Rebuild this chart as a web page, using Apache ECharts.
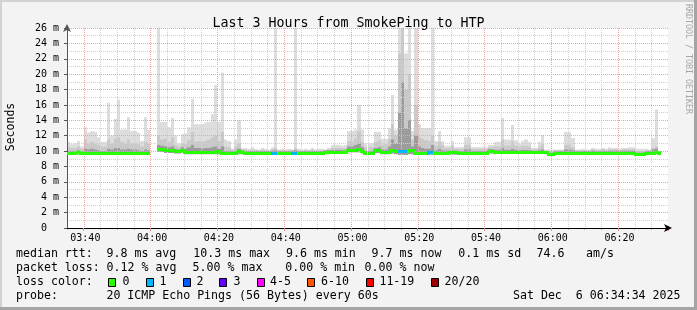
<!DOCTYPE html>
<html><head><meta charset="utf-8">
<script src="https://cdn.jsdelivr.net/npm/echarts@6/dist/echarts.min.js"></script>
<style>
html,body{margin:0;padding:0;background:#f3f3f3;}
#wrap{position:relative;width:697px;height:310px;overflow:hidden;}
#chart{position:absolute;left:0;top:0;width:697px;height:310px;}
.edge{position:absolute;}
</style></head><body>
<div id="wrap"><div id="chart"></div>
<div class="edge" style="left:0;top:0;width:697px;height:2px;background:#d2d2d2"></div>
<div class="edge" style="left:0;top:0;width:2px;height:310px;background:#d2d2d2"></div>
<div class="edge" style="left:0;top:307px;width:697px;height:3px;background:#a4a4a4"></div>
<div class="edge" style="left:694px;top:0;width:3px;height:310px;background:#a4a4a4"></div>
</div>
<script>
// ---- data (milliseconds, one value per minute starting 03:35) ----
const startMinute = 3 * 60 + 35;
const minuteCount = 180;
const tickLabels = ['03:40','04:00','04:20','04:40','05:00','05:20','05:40','06:00','06:20'];
const yTicksMs = [0,2,4,6,8,10,12,14,16,18,20,22,24,26];

const median = [
9.8,9.8,9.8,9.9,9.75,9.75,9.75,9.75,9.75,9.75,
9.75,9.75,9.75,9.75,9.75,9.75,9.75,9.75,9.75,9.75,
9.75,9.75,9.75,9.75,9.75,null,null,10.3,10.3,10.1,
10.1,10.1,10.0,10.0,10.2,9.9,9.9,9.9,9.9,9.9,
9.9,9.9,9.9,9.9,9.9,9.95,9.75,9.75,9.75,9.75,
9.8,9.95,9.9,9.8,9.8,9.8,9.8,9.8,9.8,9.8,
9.8,9.8,9.8,9.8,9.8,9.8,9.8,9.8,9.8,9.8,
9.8,9.8,9.8,9.8,9.8,9.8,9.8,9.9,9.9,9.9,
9.9,9.9,9.9,9.9,10.2,10.2,10.2,10.25,10.0,9.8,
9.8,9.8,10.1,10.1,9.9,9.9,9.9,10.1,10.0,10.0,
10.0,10.0,10.1,10.1,9.8,9.8,9.8,9.8,9.85,9.85,
9.8,9.8,9.8,9.8,9.85,9.85,9.85,9.8,9.8,9.8,
9.8,9.8,9.8,9.8,9.8,9.8,10.0,10.0,9.9,9.9,
9.9,9.9,9.9,9.9,9.9,9.9,9.9,9.9,9.9,9.9,
9.9,9.9,9.9,9.85,9.6,9.6,9.8,9.8,9.8,9.8,
9.8,9.8,9.8,9.8,9.8,9.8,9.8,9.8,9.8,9.8,
9.8,9.8,9.8,9.8,9.8,9.8,9.8,9.8,9.8,9.8,
9.6,9.6,9.6,9.8,9.8,9.8,9.9,9.8,null,null];

const lossCount = [
0,0,0,0,0,0,0,0,0,0, 0,0,0,0,0,0,0,0,0,0,
0,0,0,0,0,0,0,0,0,0, 0,0,0,0,0,0,0,0,0,0,
0,0,0,0,0,0,0,0,0,0, 0,0,0,0,0,0,0,0,0,0,
0,1,1,0,0,0,0,1,1,0, 0,0,0,0,0,0,0,0,0,0,
0,0,0,0,0,0,0,0,0,0, 0,0,0,0,0,0,0,0,0,1,
1,1,0,0,0,0,0,0,1,1, 0,0,0,0,0,0,0,0,0,0,
0,0,0,0,0,0,0,0,0,0, 0,0,0,0,0,0,0,0,0,0,
0,0,0,0,0,0,0,0,0,0, 0,0,0,0,0,0,0,0,0,0,
0,0,0,0,0,0,0,0,0,0, 0,0,0,0,0,0,0,0,0,0];

const pingMin = [
9.55,9.55,9.55,9.6,9.5,9.5,9.5,9.5,9.5,9.5,
9.5,9.5,9.5,9.5,9.5,9.5,9.5,9.5,9.5,9.5,
9.5,9.5,9.5,9.5,9.5,null,null,9.9,9.9,9.75,
9.75,9.75,9.7,9.7,9.8,9.6,9.6,9.6,9.6,9.6,
9.6,9.6,9.6,9.6,9.6,9.6,9.5,9.5,9.5,9.5,
9.55,9.6,9.6,9.55,9.55,9.55,9.55,9.55,9.55,9.55,
9.55,9.55,9.55,9.55,9.55,9.55,9.55,9.55,9.55,9.55,
9.55,9.55,9.55,9.55,9.55,9.55,9.55,9.65,9.65,9.65,
9.65,9.65,9.65,9.65,9.85,9.85,9.85,9.85,9.7,9.5,
9.5,9.5,9.75,9.75,9.6,9.6,9.6,9.7,9.6,9.5,
9.5,9.5,9.6,9.6,9.5,9.5,9.5,9.5,9.55,9.55,
9.55,9.55,9.55,9.55,9.55,9.55,9.55,9.55,9.55,9.55,
9.55,9.55,9.55,9.55,9.55,9.55,9.7,9.7,9.65,9.65,
9.65,9.65,9.65,9.65,9.65,9.65,9.65,9.65,9.65,9.65,
9.65,9.65,9.65,9.6,9.4,9.4,9.55,9.55,9.55,9.55,
9.55,9.55,9.55,9.55,9.55,9.55,9.55,9.55,9.55,9.55,
9.55,9.55,9.55,9.55,9.55,9.55,9.55,9.55,9.55,9.55,
9.4,9.4,9.4,9.55,9.55,9.55,9.65,9.55,null,null];

const pingP75 = [
10.0,10.0,10.0,10.1,9.95,10.3,10.2,10.3,10.2,10.1,
10.0,10.0,10.3,10.2,10.4,10.4,10.2,10.2,10.3,10.2,
10.2,10.1,10.0,10.2,10.1,null,null,10.8,10.7,10.6,
10.5,10.6,10.3,10.2,10.5,10.3,10.5,10.8,10.4,10.4,
10.3,10.4,10.4,10.5,10.6,10.3,10.6,10.0,10.0,9.95,
10.0,10.3,10.1,10.0,10.0,10.0,10.0,10.0,10.0,10.0,
10.0,10.05,10.1,10.0,10.0,10.0,10.0,10.05,10.1,10.0,
10.0,10.0,10.0,10.0,10.0,10.0,10.0,10.1,10.1,10.15,
10.15,10.15,10.1,10.1,10.6,10.6,10.8,11.0,10.5,10.0,
10.0,10.0,10.4,10.5,10.2,10.2,10.6,11.5,11.0,15.0,
19.0,13.0,14.0,10.6,12.0,10.6,10.4,10.3,10.3,10.8,
10.1,10.3,10.1,10.05,10.05,10.1,10.05,10.0,10.0,10.2,
10.2,10.0,10.0,10.0,10.0,10.0,10.25,10.25,10.15,10.15,
10.4,10.15,10.15,10.3,10.15,10.1,10.15,10.15,10.1,10.05,
10.05,10.1,10.2,10.0,9.8,9.8,10.0,10.0,10.0,10.2,
10.2,10.1,10.0,10.0,10.0,10.0,10.0,10.05,10.0,10.0,
10.05,10.0,10.05,10.05,10.05,10.0,10.05,10.05,10.05,10.05,
9.8,9.8,9.8,10.0,10.0,10.2,10.3,10.0,null,null];

const pingP90 = [
10.5,10.4,10.4,10.6,10.3,11.5,11.0,11.2,11.0,10.8,
10.6,10.6,11.5,11.0,11.6,11.8,11.2,11.0,11.5,11.0,
11.0,10.9,10.6,11.2,11.0,null,null,12.0,11.5,11.6,
11.2,11.8,10.8,10.6,11.0,10.9,11.4,12.5,11.2,11.3,
11.2,11.3,11.5,11.8,12.0,11.3,12.5,10.6,10.5,10.2,
10.6,11.0,10.2,10.2,10.1,10.2,10.1,10.1,10.2,10.1,
10.1,10.2,10.4,10.1,10.1,10.1,10.1,10.1,10.4,10.1,
10.1,10.1,10.1,10.2,10.1,10.1,10.1,10.1,10.2,10.4,
10.4,10.4,10.4,10.4,11.3,11.2,11.6,12.6,11.2,10.5,
10.5,10.5,11.2,11.4,10.8,10.9,11.6,13.5,12.0,22.7,
26.0,18.0,20.0,11.5,16.0,11.8,11.6,11.4,11.3,12.0,
10.7,11.2,10.8,10.4,10.4,10.7,10.3,10.3,10.3,10.8,
10.8,10.3,10.3,10.3,10.3,10.3,10.5,10.5,10.6,10.6,
11.5,10.7,10.7,11.3,10.7,10.5,10.7,10.7,10.6,10.2,
10.2,10.5,10.9,10.1,9.9,9.9,10.1,10.1,10.1,10.8,
10.8,10.5,10.1,10.1,10.1,10.1,10.1,10.2,10.1,10.1,
10.2,10.1,10.2,10.2,10.2,10.1,10.2,10.2,10.2,10.2,
10.0,10.0,10.0,10.1,10.1,10.4,10.6,10.0,null,null];

const pingMax = [
11.2,10.9,11.0,11.3,10.6,13.1,12.4,12.6,12.5,11.8,
11.2,11.2,16.3,12.0,14.2,16.7,12.8,12.8,14.4,12.6,
12.6,12.4,11.3,14.4,12.8,null,null,30,13.8,13.8,
13.1,14.3,12.0,11.0,12.2,12.3,13.1,16.8,13.5,13.5,
13.5,13.7,13.8,14.8,18.6,13.8,20.2,11.5,11.3,10.3,
11.5,14.0,10.4,10.4,10.3,10.5,10.3,10.2,10.4,10.3,
10.2,10.5,30,10.2,10.3,10.2,10.3,10.2,30,10.3,
10.2,10.3,10.2,10.4,10.2,10.3,10.3,10.2,10.4,10.8,
10.8,10.8,10.7,10.8,12.6,12.6,12.8,16.0,12.8,11.0,
11.0,11.0,12.5,12.5,11.6,11.6,13.0,17.3,12.8,26.5,
30,22.7,30,12.6,30,13.5,13.0,13.0,13.0,30,
11.3,12.6,11.3,10.7,10.7,11.3,10.5,10.5,10.5,11.8,
11.8,10.5,10.5,10.5,10.5,10.5,10.8,10.8,11.2,11.2,
14.3,11.5,11.5,13.4,11.4,11.0,11.3,11.5,11.2,10.4,
10.4,11.2,12.1,10.2,10.2,10.2,10.2,10.2,10.2,12.5,
12.5,11.7,10.2,10.2,10.3,10.2,10.2,10.4,10.3,10.3,
10.4,10.3,10.5,10.4,10.4,10.3,10.4,10.4,10.5,10.5,
10.3,10.3,10.3,10.3,10.2,11.7,15.4,10.0,null,null];

const lossLabels = ['0','1','2','3','4-5','6-10','11-19','20/20'];
const lossUpper  = [0,1,2,3,5,10,19,20];
const lossColors = ['#26ff00','#00b8ff','#0059ff','#6200ff','#ff00ff','#ff5500','#ff0000','#a10000'];

// legend text pieces per row
const legendRows = [
  ['median rtt:', '9.8 ms avg', '10.3 ms max', '9.6 ms min', '9.7 ms now', '0.1 ms sd', '74.6', 'am/s'],
  ['packet loss:', '0.12 % avg', '5.00 % max', '0.00 % min', '0.00 % now'],
  ['loss color:'],
  ['probe:', '20 ICMP Echo Pings (56 Bytes) every 60s']
];
const stampText = 'Sat Dec  6 06:34:34 2025';
const chartTitle = 'Last 3 Hours from SmokePing to HTP';

// ---- layout / style ----
const MONO = '"DejaVu Sans Mono", monospace';
const legendRowX = [
  [16, 106.5, 193.3, 286, 371.6, 458.3, 536.6, 586],
  [16, 106.6, 192.6, 285.3, 364.6],
  [16],
  [16, 106.4]
];
const legendRowY = [254, 268, 282, 296];
const lossBoxX = [108, 146, 183, 219, 257, 307, 366, 431];
const lossTextX = [122.4, 159.6, 196.6, 233.6, 270, 321, 379.4, 444.6];
const smokeColors = ['#dddddd', '#c9c9c9', '#9c9c9c'];
const majorGrid = '#f2a0a0';
const minorGrid = '#cfcfcf';
const LEG_FONT = '11.6px ' + MONO;

const pad = n => (n < 10 ? '0' : '') + n;
const times = [];
for (let k = 0; k < minuteCount; k++) {
  const t = startMinute + k;
  times.push(pad(Math.floor(t / 60)) + ':' + pad(t % 60));
}
const isMajor = v => tickLabels.indexOf(v) >= 0;
const isMinor = v => (parseInt(v.slice(3), 10) % 5 === 0) && !isMajor(v);
const lossBucket = n => { for (let b = 0; b < lossUpper.length; b++) if (n <= lossUpper[b]) return b; return lossUpper.length - 1; };

const smokeData = times.map((t, i) => [i, pingMin[i], pingP75[i], pingP90[i], pingMax[i]]);
const medianData = times.map((t, i) => [i, median[i], lossCount[i]]);
const vGridData = [];
times.forEach((t, i) => { if (i > 0 && (isMajor(t) || isMinor(t))) vGridData.push([i, isMajor(t) ? 1 : 0]); });

const chart = echarts.init(document.getElementById('chart'), null, {renderer: 'canvas'});

const graphics = [];
legendRows.forEach((row, r) => {
  row.forEach((s, k) => {
    graphics.push({type: 'text', x: legendRowX[r][k], y: legendRowY[r], z: 100,
      style: {text: s, font: LEG_FONT, fill: '#000', textVerticalAlign: 'middle'}});
  });
});
graphics.push({type: 'text', x: 680.5, y: legendRowY[3], z: 100,
  style: {text: stampText, font: LEG_FONT, fill: '#000', textAlign: 'right', textVerticalAlign: 'middle'}});
lossLabels.forEach((lab, k) => {
  graphics.push({type: 'rect', z: 100, shape: {x: lossBoxX[k] + 0.5, y: 278.5, width: 7, height: 8},
    style: {fill: lossColors[k], stroke: '#000', lineWidth: 1}});
  graphics.push({type: 'text', x: lossTextX[k], y: legendRowY[2], z: 100,
    style: {text: lab, font: LEG_FONT, fill: '#000', textVerticalAlign: 'middle'}});
});
graphics.push({type: 'text', x: 11, y: 127, rotation: Math.PI / 2, z: 100,
  style: {text: 'Seconds', font: '11.5px ' + MONO, fill: '#000', textAlign: 'center', textVerticalAlign: 'middle'}});
graphics.push({type: 'text', x: 688, y: 59, rotation: -Math.PI / 2, z: 100,
  style: {text: 'RRDTOOL / TOBI OETIKER', font: '8.3px ' + MONO, fill: '#a6a6a6', textAlign: 'center', textVerticalAlign: 'middle'}});

chart.setOption({
  animation: false,
  backgroundColor: '#f3f3f3',
  title: {text: chartTitle, left: 'center', top: 12,
    textStyle: {fontFamily: MONO, fontSize: 13.3, fontWeight: 'normal', color: '#000'}},
  grid: {left: 67, right: 29, top: 28, bottom: 82, show: true, backgroundColor: '#fff', borderWidth: 0},
  xAxis: [{
    type: 'category', data: times, position: 'bottom', boundaryGap: true, z: 5,
    axisLine: {show: true, symbol: ['none', 'arrow'], symbolSize: [6, 8], symbolOffset: [0, 4],
      lineStyle: {color: '#000', width: 1}},
    axisTick: {show: true, length: 3, interval: (i, v) => isMajor(v), lineStyle: {color: '#e58c8c'}},
    axisLabel: {interval: (i, v) => isMajor(v), fontFamily: MONO, fontSize: 10, color: '#000', margin: 5},
    splitLine: {show: false}
  }, {
    type: 'category', data: times, position: 'bottom', boundaryGap: true, z: 4,
    axisLine: {show: false},
    axisTick: {show: true, length: 2, interval: (i, v) => isMinor(v), lineStyle: {color: '#bbbbbb'}},
    axisLabel: {show: false},
    splitLine: {show: false}
  }],
  yAxis: {
    type: 'value', min: 0, max: yTicksMs[yTicksMs.length - 1], interval: yTicksMs[1] - yTicksMs[0], z: 5,
    axisLine: {show: true, onZero: false, symbol: ['none', 'arrow'], symbolSize: [6, 8], symbolOffset: [0, 4],
      lineStyle: {color: '#555', width: 1}},
    axisTick: {show: true, length: 3, lineStyle: {color: '#555'}},
    axisLabel: {fontFamily: MONO, fontSize: 10, color: '#000', margin: 8,
      formatter: v => (v === 0 ? '0  ' : Math.round(v) + ' m')},
    splitLine: {show: true, lineStyle: {color: majorGrid, type: [1, 1], width: 1}},
    minorTick: {show: false, splitNumber: 2},
    minorSplitLine: {show: true, lineStyle: {color: minorGrid, type: [1, 1], width: 1}}
  },
  series: [{
    type: 'custom', name: 'smoke', z: 1, xAxisIndex: 0,
    data: smokeData,
    renderItem: (params, api) => {
      const i = api.value(0);
      const v = [api.value(1), api.value(2), api.value(3), api.value(4)];
      if (v.some(x => isNaN(x))) return null;
      const cs = params.coordSys;
      const c = api.coord([i, v[0]]);
      const w = api.size([1, 0])[0];
      const x0 = Math.round(c[0] - w / 2), x1 = Math.round(c[0] + w / 2);
      const yOf = val => Math.max(cs.y, api.coord([i, val])[1]);
      const yMin = yOf(v[0]), y75 = yOf(v[1]), y90 = yOf(v[2]), yMax = yOf(v[3]);
      return {type: 'group', children: [
        {type: 'rect', shape: {x: x0, y: yMax, width: x1 - x0, height: yMin - yMax}, style: {fill: smokeColors[0]}},
        {type: 'rect', shape: {x: x0, y: y90, width: x1 - x0, height: yMin - y90}, style: {fill: smokeColors[1]}},
        {type: 'rect', shape: {x: x0, y: y75, width: x1 - x0, height: yMin - y75}, style: {fill: smokeColors[2]}}
      ]};
    }
  }, {
    type: 'custom', name: 'vgrid', z: 3, xAxisIndex: 0, silent: true,
    data: vGridData,
    renderItem: (params, api) => {
      const i = api.value(0), major = api.value(1);
      const cs = params.coordSys;
      const c = api.coord([i, 0]);
      const w = api.size([1, 0])[0];
      const x = Math.round(c[0] - w / 2) + 0.5;
      return {type: 'line', shape: {x1: x, y1: cs.y, x2: x, y2: cs.y + cs.height},
        style: {stroke: major ? majorGrid : minorGrid, lineWidth: 1, lineDash: [1, 1]}};
    }
  }, {
    type: 'custom', name: 'median', z: 10, xAxisIndex: 0,
    data: medianData,
    renderItem: (params, api) => {
      const i = api.value(0), m = api.value(1), loss = api.value(2);
      if (isNaN(m)) return null;
      const c = api.coord([i, m]);
      const w = api.size([1, 0])[0];
      const x0 = Math.round(c[0] - w / 2), x1 = Math.round(c[0] + w / 2);
      const color = lossColors[lossBucket(loss)];
      const y = Math.round(c[1]);
      const children = [{type: 'rect', shape: {x: x0, y: y - 1, width: x1 - x0, height: 3}, style: {fill: color}}];
      const prev = i > 0 ? median[i - 1] : null;
      if (prev != null && prev !== m) {
        const py = Math.round(api.coord([i - 1, prev])[1]);
        children.push({type: 'rect', shape: {x: x0 - 1, y: Math.min(py, y) - 1, width: 2, height: Math.abs(py - y) + 3}, style: {fill: color}});
      }
      return {type: 'group', children: children};
    }
  }],
  graphic: graphics
});
</script>
</body></html>
